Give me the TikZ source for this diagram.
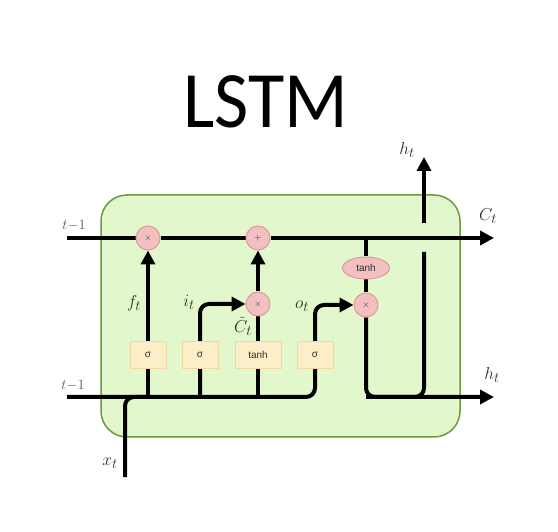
\documentclass[tikz,border=0pt]{standalone}
\usepackage{fontspec}
\newfontfamily\titlefont{Carlito}
\newfontfamily\gatefont{Liberation Sans}
\usetikzlibrary{arrows.meta,shapes.geometric}
\pgfdeclarelayer{back}
\pgfdeclarelayer{lines}
\pgfsetlayers{back,lines,main}
\definecolor{cellfill}{HTML}{E2F8CC}
\definecolor{celldraw}{HTML}{6B9B3A}
\definecolor{gatefill}{HTML}{FCEFC8}
\definecolor{gatedraw}{HTML}{F2D8A2}
\definecolor{opfill}{HTML}{F3C0C2}
\definecolor{opdraw}{HTML}{DE9A9C}
\definecolor{lblcol}{HTML}{2E2E2E}
\tikzset{
  wire/.style={line width=4pt,black},
  arr/.style={wire,-{Triangle[length=14pt,width=14pt]}},
  gatebox/.style={rectangle,fill=gatefill,draw=gatedraw,line width=1pt,minimum width=36pt,minimum height=27pt,inner sep=0pt,font=\gatefont\fontsize{10}{10}\selectfont,text=lblcol},
  opnode/.style={circle,fill=opfill,draw=opdraw,line width=1pt,minimum size=24pt,inner sep=0pt,font=\fontsize{9}{9}\selectfont,text=lblcol},
  opell/.style={ellipse,fill=opfill,draw=opdraw,line width=1pt,minimum width=47pt,minimum height=22pt,inner sep=0pt,font=\gatefont\fontsize{10}{10}\selectfont,text=lblcol},
  lbl/.style={font=\fontsize{19}{19}\selectfont,text=lblcol,inner sep=0pt},
  sidelbl/.style={font=\fontsize{15}{15}\selectfont,text=lblcol!80,inner sep=0pt},
}
\begin{document}
\begin{tikzpicture}[x=1pt,y=-1pt]
\useasboundingbox (0,0) rectangle (558,532);
% title
\node[anchor=base,inner sep=0pt] (title) at (266,128) {\titlefont\fontsize{80}{80}\selectfont\scalebox{0.93}[1]{LSTM}};
% cell
\begin{pgfonlayer}{back}
\fill[white] (0,0) rectangle (558,532);
\node[draw=celldraw,fill=cellfill,line width=1.5pt,rounded corners=26pt,minimum width=359pt,minimum height=242pt,inner sep=0pt] (cell) at (280.5,316) {};
\end{pgfonlayer}
% operators
\node[opnode] (mul1) at (148,238) {$\times$};
\node[opnode] (add) at (258,238) {$+$};
\node[opnode] (mul2) at (258,304) {$\times$};
\node[opnode] (mul3) at (366,305) {$\times$};
\node[opell] (tanhC) at (366,268) {tanh};
% gates
\node[gatebox] (gf) at (148,355) {σ};
\node[gatebox] (gi) at (200,355) {σ};
\node[gatebox,minimum width=46pt] (gc) at (258,355) {tanh};
\node[gatebox] (go) at (315,355) {σ};
% coordinates
\coordinate (cin) at (67,238);
\coordinate (cout) at (494,238);
\coordinate (cj) at (366,238);
\coordinate (hin) at (67,397);
\coordinate (hout) at (494,397);
\coordinate (xin) at (125,477);
\coordinate (xj) at (125,397);
\coordinate (f0) at (148,397);
\coordinate (i0) at (200,397);
\coordinate (c0) at (258,397);
\coordinate (o0) at (315,397);
\coordinate (ob) at (366,397);
\coordinate (hj) at (424,397);
\coordinate (hlow) at (424,252);
\coordinate (hhigh) at (424,223);
\coordinate (htop) at (424,157);
\begin{pgfonlayer}{lines}
% cell state line
\draw[wire] (cin) -- (mul1);
\draw[wire] (mul1) -- (add);
\draw[arr] (add) -- (cout);
% hidden input line to output gate
\draw[arr,rounded corners=9pt] (hin) -- (o0) -- (o0 |- mul3) -- (mul3);
\draw[wire,rounded corners=9pt] (xin) -- (xj) -- (f0);
% gates
\draw[arr] (f0) -- (mul1);
\draw[arr,rounded corners=9pt] (i0) -- (i0 |- mul2) -- (mul2);
\draw[wire] (c0) -- (mul2);
\draw[arr] (mul2) -- (add);
% output
\draw[wire] (cj) -- (tanhC);
\draw[wire] (tanhC) -- (mul3);
\draw[arr,rounded corners=9pt] (mul3) -- (ob) -- (hout);
\draw[wire,rounded corners=9pt] (ob) -- (hj) -- (hlow);
\draw[arr] (hhigh) -- (htop);
\end{pgfonlayer}
% labels
\node[lbl] (lf) at (134,303) {$f_t$};
\node[lbl] (li) at (189,302) {$i_t$};
\node[lbl] (lc) at (243,326) {$\tilde{C}_t$};
\node[lbl] (lo) at (302,306) {$o_t$};
\node[lbl] (lht) at (407,150) {$h_t$};
\node[lbl] (lct) at (488,216) {$C_t$};
\node[lbl] (lhr) at (492,375) {$h_t$};
\node[lbl] (lx) at (110,463) {$x_t$};
\node[sidelbl] (lc1) at (74,225) {$t{-}1$};
\node[sidelbl] (lh1) at (73,385) {$t{-}1$};
\end{tikzpicture}
\end{document}
